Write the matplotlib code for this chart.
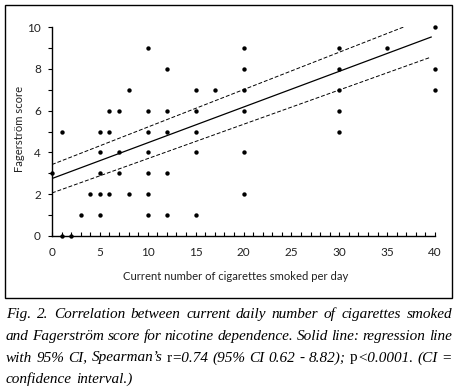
import matplotlib
matplotlib.use("Agg")
import matplotlib.pyplot as plt
from matplotlib.patches import Rectangle
from matplotlib.ticker import MultipleLocator

# ---- data ----
cig_x = [0, 1, 1, 2, 3, 4,
         5, 5, 5, 5, 5,
         6, 6, 6,
         7, 7, 7,
         8, 8,
         10, 10, 10, 10, 10, 10, 10,
         12, 12, 12, 12, 12,
         15, 15, 15, 15, 15,
         17,
         20, 20, 20, 20, 20, 20,
         30, 30, 30, 30, 30,
         35,
         40, 40, 40]
fag_y = [3, 5, 0, 0, 1, 2,
         5, 4, 3, 2, 1,
         6, 5, 2,
         6, 4, 3,
         7, 2,
         9, 6, 5, 4, 3, 2, 1,
         8, 6, 5, 3, 1,
         7, 6, 5, 4, 1,
         7,
         9, 8, 7, 6, 4, 2,
         9, 8, 7, 6, 5,
         9,
         10, 8, 7]

reg_x = [0, 39.6]
reg_y = [2.75, 9.52]
ci_up_x = [0, 36.9]
ci_up_y = [3.42, 10.03]
ci_lo_x = [0, 39.4]
ci_lo_y = [2.06, 8.53]

x_ticks = [0, 5, 10, 15, 20, 25, 30, 35, 40]
y_ticks = [0, 2, 4, 6, 8, 10]

xlabel = "Current number of cigarettes smoked per day"
ylabel = "Fagerström score"

caption_lines = [
    [[("Fig.", "italic")], [("2.", "italic")], [("Correlation", "italic")], [("between", "italic")],
     [("current", "italic")], [("daily", "italic")], [("number", "italic")], [("of", "italic")],
     [("cigarettes", "italic")], [("smoked", "italic")]],
    [[("and", "italic")], [("Fagerström", "italic")], [("score", "italic")], [("for", "italic")],
     [("nicotine", "italic")], [("dependence.", "italic")], [("Solid", "italic")], [("line:", "italic")],
     [("regression", "italic")], [("line", "italic")]],
    [[("with", "italic")], [("95%", "italic")], [("CI,", "italic")], [("Spearman\u2019s", "italic")],
     [("r", "normal"), ("=0.74", "italic")], [("(95%", "italic")], [("CI", "italic")], [("0.62", "italic")],
     [("-", "italic")], [("8.82);", "italic")], [("p", "normal"), ("<0.0001.", "italic")],
     [("(CI", "italic")], [("=", "italic")]],
    [[("confidence", "italic")], [("interval.)", "italic")]],
]

W, H = 458, 389
fig = plt.figure(figsize=(W / 100, H / 100), dpi=100)

def fx(px):
    return px / W

def fy(py):
    return 1 - py / H

# frame
fig.patches.append(Rectangle((fx(5), fy(298)), fx(452) - fx(5), fy(5) - fy(298),
                             transform=fig.transFigure, fill=False, edgecolor="black", linewidth=1.0))

ax = fig.add_axes([fx(52), fy(236), fx(435) - fx(52), fy(27) - fy(236)])
ax.set_xlim(0, 40)
ax.set_ylim(0, 10)
ax.spines["top"].set_visible(False)
ax.spines["right"].set_visible(False)
for s in ("left", "bottom"):
    ax.spines[s].set_linewidth(1.0)

ax.scatter(cig_x, fag_y, s=10, color="black", clip_on=False, zorder=3, linewidths=0)
ax.plot(reg_x, reg_y, color="black", linewidth=0.9)
ax.plot(ci_up_x, ci_up_y, color="black", linewidth=0.7, linestyle=(0, (4, 2)))
ax.plot(ci_lo_x, ci_lo_y, color="black", linewidth=0.7, linestyle=(0, (4, 2)))

tick_font = dict(family="Lato", size=8.5, color="#222222")
ax.set_xticks(x_ticks)
ax.set_yticks(y_ticks)
ax.set_xticklabels([str(v) for v in x_ticks], **tick_font)
ax.set_yticklabels([str(v) for v in y_ticks], **tick_font)
ax.xaxis.set_minor_locator(MultipleLocator(1))
ax.yaxis.set_minor_locator(MultipleLocator(1))
ax.tick_params(axis="x", which="both", direction="in", length=3, width=0.8, pad=8)
ax.tick_params(axis="y", which="both", direction="out", length=3, width=0.8, pad=5)

fig.text(fx(235.5), fy(277), xlabel, ha="center", va="center", family="Lato", size=8.1, color="#222222")
fig.text(fx(20), fy(128.5), ylabel, ha="center", va="center", rotation=90, family="Lato", size=8.1,
         color="#222222")

# justified caption
renderer = fig.canvas.get_renderer()
cap_font = "Liberation Serif"
cap_size = 11.0
left_px, right_px = 6, 452
baselines = [318, 340, 361.5, 383]

def seg_width(txt, style):
    t = fig.text(0, 0, txt, family=cap_font, style=style, size=cap_size)
    w = t.get_window_extent(renderer).width
    t.remove()
    return w

space_w = seg_width("a b", "italic") - seg_width("ab", "italic")

for li, words in enumerate(caption_lines):
    widths = []
    for word in words:
        widths.append([seg_width(txt, st) for txt, st in word])
    totals = [sum(w) for w in widths]
    last = li == len(caption_lines) - 1
    if last or len(words) == 1:
        gap = space_w
    else:
        gap = (right_px - left_px - sum(totals)) / (len(words) - 1)
    x = left_px
    for word, ws in zip(words, widths):
        xx = x
        for (txt, st), w in zip(word, ws):
            fig.text(fx(xx), fy(baselines[li]), txt, family=cap_font, style=st, size=cap_size,
                     ha="left", va="baseline")
            xx += w
        x += sum(ws) + gap

fig.savefig("out.png", dpi=100)
